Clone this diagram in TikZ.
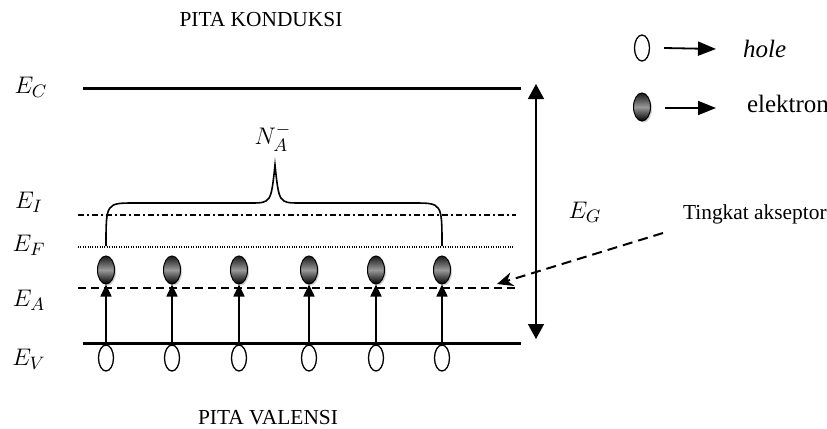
\documentclass[tikz,border=0pt]{standalone}
\usepackage{fontspec}
\setmainfont{Liberation Serif}
\usetikzlibrary{arrows.meta,shapes.geometric,shadows}

\begin{document}
\begin{tikzpicture}[x=0.5pt,y=-0.5pt,
  band/.style={line width=1.5pt},
  lvl/.style={font=\fontsize{13}{15}\selectfont},
  lbl/.style={font=\fontsize{10.7}{12}\selectfont},
  hole/.style={draw,ellipse,line width=0.65pt,fill=white,inner sep=0pt,
               minimum width=7.5pt,minimum height=13pt},
  elek/.style={ellipse,draw=black,line width=0.5pt,inner sep=0pt,
               minimum width=8.5pt,minimum height=14pt,
               top color=black!90,bottom color=black,middle color=black!40,
               drop shadow={shadow xshift=0.8pt,shadow yshift=-0.8pt,opacity=0.35}},
  naik/.style={-{Triangle[width=5.5pt,length=6pt]},line width=0.8pt},
  legarr/.style={-{Triangle[width=7pt,length=9pt]},line width=0.9pt}]
  \useasboundingbox (0,0) rectangle (827,429);

  % Band labels
  \node[lbl] (konduksi) at (261,20) {PITA KONDUKSI};
  \node[lbl] (valensi) at (268,418) {PITA VALENSI};

  % Energy levels
  \coordinate (c0) at (83,88);  \coordinate (c1) at (521,88);
  \coordinate (i0) at (78,215); \coordinate (i1) at (516,215);
  \coordinate (f0) at (78,247); \coordinate (f1) at (514,247);
  \coordinate (a0) at (78,288); \coordinate (a1) at (516,288);
  \coordinate (v0) at (83,343); \coordinate (v1) at (521,343);
  \draw[band] (c0) -- (c1);
  \draw[line width=0.6pt,dash pattern=on 3pt off 1.5pt on 1pt off 1.5pt] (i0) -- (i1);
  \draw[line width=0.6pt,dash pattern=on 0.5pt off 0.7pt] (f0) -- (f1);
  \draw[line width=0.6pt,dash pattern=on 4pt off 2.5pt] (a0) -- (a1);
  \draw[band] (v0) -- (v1);

  \node[lvl] (lc) at (31,87) {$E_C$};
  \node[lvl] (li) at (29,202) {$E_I$};
  \node[lvl] (lf) at (29,245) {$E_F$};
  \node[lvl] (la) at (29,300) {$E_A$};
  \node[lvl] (lv) at (29,359) {$E_V$};

  % Band gap
  \coordinate (g0) at (536,84); \coordinate (g1) at (536,339);
  \draw[{Triangle[width=8pt,length=7.5pt]}-{Triangle[width=8pt,length=7.5pt]},
        line width=0.8pt] (g0) -- (g1);
  \node[lvl] (lg) at (585,212) {$E_G$};

  % Holes and electrons
  \foreach \i/\x in {1/106,2/172,3/239,4/309,5/376,6/442}{
    \node[hole] (h\i) at (\x,358) {};
    \node[elek] (e\i) at (\x,270) {};
    \draw[naik] (h\i.north) -- (e\i.south);
  }

  % Brace over ionised acceptors
  \draw[line width=0.8pt] (106,246) .. controls (106,203) .. (135,203)
    -- (250,203) .. controls (271,203) .. (275,165)
    .. controls (279,203) .. (300,203) -- (413,203)
    .. controls (442,203) .. (442,246);
  \node[lvl] (na) at (273,138) {$N_A^-$};

  % Acceptor level pointer
  \node[lbl,anchor=west] (aks) at (676,214) {Tingkat akseptor};
  \coordinate (p0) at (663,233); \coordinate (p1) at (497,284);
  \draw[-{Stealth[width=7pt,length=8pt]},line width=1pt,dash pattern=on 5pt off 3pt]
    (p0) -- (p1);

  % Legend
  \node[hole] (lh) at (642,48) {};
  \node[anchor=west,font=\fontsize{12.5}{14}\selectfont\itshape] (lhole) at (736,49) {hole};
  \draw[legarr] ([xshift=7pt]lh.east) -- ([xshift=-10pt]lhole.west);
  \node[elek] (le) at (642,107) {};
  \node[anchor=west,font=\fontsize{12.5}{14}\selectfont] (lel) at (740,104) {elektron};
  \draw[legarr] ([xshift=7pt,yshift=-0.5pt]le.east) -- ([xshift=-12pt,yshift=-2pt]lel.west);
\end{tikzpicture}
\end{document}
